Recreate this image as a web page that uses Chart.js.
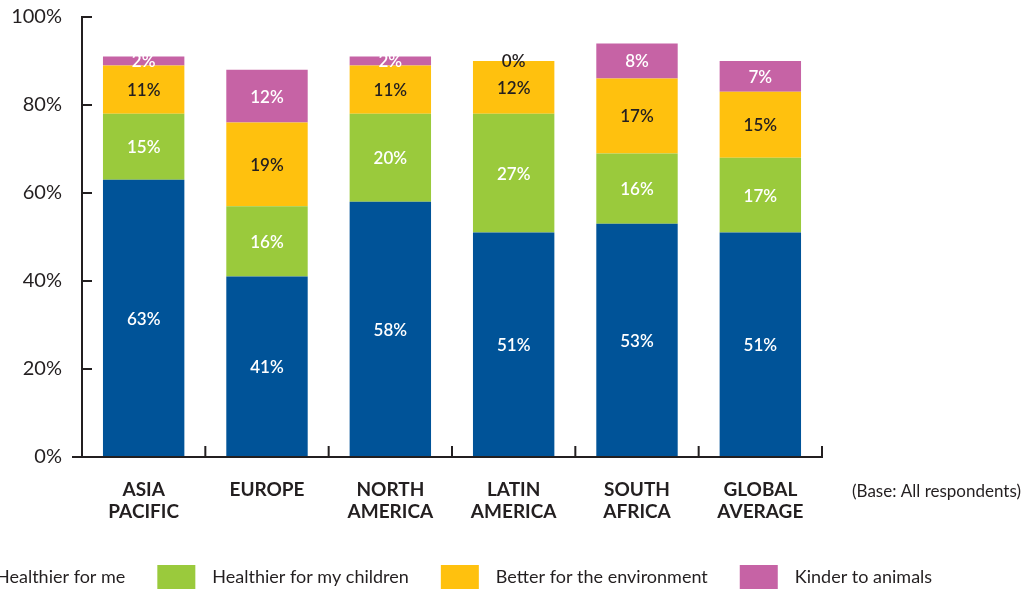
<!DOCTYPE html>
<html><head><meta charset="utf-8">
<script src="https://cdn.jsdelivr.net/npm/chart.js@4.4.1/dist/chart.umd.min.js"></script>
<style>html,body{margin:0;padding:0;background:#fff;overflow:hidden}#wrap{width:1027px;height:591px;position:relative}</style>
</head><body><div id="wrap"><canvas id="c" width="1027" height="591"></canvas></div>
<script>
const categories = [['ASIA','PACIFIC'],['EUROPE'],['NORTH','AMERICA'],['LATIN','AMERICA'],['SOUTH','AFRICA'],['GLOBAL','AVERAGE']];
const seriesNames = ['Healthier for me','Healthier for my children','Better for the environment','Kinder to animals'];
const healthierForMe = [63,41,58,51,53,51];
const healthierForChildren = [15,16,20,27,16,17];
const betterForEnvironment = [11,19,11,12,17,15];
const kinderToAnimals = [2,12,2,0,8,7];
const yTickValues = [0,20,40,60,80,100];
const footnote = '(Base: All respondents)';

const FONT = 'Lato';
const INK = '#231f20';
const colors = ['#005398','#9aca3c','#ffc10e','#c663a5'];
const labelColors = ['#ffffff','#ffffff',INK,'#ffffff'];
const seriesValues = [healthierForMe, healthierForChildren, betterForEnvironment, kinderToAnimals];

const axesPlugin = {
  id: 'axesPlugin',
  afterDraw(chart) {
    const ctx = chart.ctx, ca = chart.chartArea;
    const x = chart.scales.x, y = chart.scales.y;
    ctx.save();
    ctx.strokeStyle = INK; ctx.lineWidth = 2; ctx.lineCap = 'butt';
    const y0 = y.getPixelForValue(0), y100 = y.getPixelForValue(100);
    ctx.beginPath();
    ctx.moveTo(ca.left, y100 - 1); ctx.lineTo(ca.left, y0 + 1);
    yTickValues.forEach(v => { if (v === 0) return; const p = y.getPixelForValue(v); ctx.moveTo(ca.left - 1, p); ctx.lineTo(ca.left + 10, p); });
    ctx.moveTo(ca.left - 10, y0); ctx.lineTo(ca.right + 1, y0);
    for (let i = 1; i < categories.length; i++) {
      const p = (x.getPixelForTick(i - 1) + x.getPixelForTick(i)) / 2;
      ctx.moveTo(p, y0); ctx.lineTo(p, y0 - 11);
    }
    ctx.moveTo(ca.right, y0); ctx.lineTo(ca.right, y0 - 11);
    ctx.stroke();

    // footnote
    ctx.fillStyle = INK; ctx.font = '17px ' + FONT; ctx.textBaseline = 'middle'; ctx.textAlign = 'left';
    ctx.fillText(footnote, ca.right + 30, y0 + 35);

    // legend
    ctx.font = '18px ' + FONT;
    let lx = -59;
    const ly = 577;
    chart.data.datasets.forEach(ds => {
      ctx.fillStyle = ds.backgroundColor;
      ctx.fillRect(lx, ly - 12, 38, 24);
      ctx.fillStyle = INK; ctx.textAlign = 'left'; ctx.textBaseline = 'middle';
      ctx.fillText(ds.label, lx + 55, ly);
      lx += 55 + ctx.measureText(ds.label).width + 32;
    });
    ctx.restore();
  },
  afterDatasetsDraw(chart) {
    const ctx = chart.ctx;
    ctx.save();
    ctx.font = '600 17px ' + FONT; ctx.textAlign = 'center'; ctx.textBaseline = 'middle';
    chart.data.datasets.forEach((ds, i) => {
      const meta = chart.getDatasetMeta(i);
      meta.data.forEach((el, j) => {
        const v = ds.data[j];
        ctx.fillStyle = v === 0 ? INK : labelColors[i];
        ctx.fillText(v + '%', el.x, (el.y + el.base) / 2 + 1);
      });
    });
    ctx.restore();
  }
};

new Chart(document.getElementById('c'), {
  type: 'bar',
  data: {
    labels: categories,
    datasets: seriesNames.map((n, i) => ({
      label: n, data: seriesValues[i], backgroundColor: colors[i],
      barPercentage: 0.66, categoryPercentage: 1, borderWidth: 0
    }))
  },
  options: {
    responsive: false, animation: false, devicePixelRatio: 1,
    layout: { padding: { top: 17, right: 205, left: 0, bottom: 0 } },
    plugins: { legend: { display: false }, tooltip: { enabled: false } },
    scales: {
      x: {
        stacked: true,
        grid: { display: false, drawTicks: false }, border: { display: false },
        ticks: { color: INK, font: { family: FONT, size: 19, weight: 'bold', lineHeight: 1.15 }, padding: 22, maxRotation: 0, autoSkip: false },
        afterFit(s) { s.height = 134; s.paddingLeft = 0; s.paddingRight = 0; }
      },
      y: {
        stacked: true, min: 0, max: 100,
        grid: { display: false, drawTicks: false }, border: { display: false },
        afterBuildTicks(s) { s.ticks = yTickValues.map(v => ({ value: v })); },
        ticks: { color: INK, font: { family: FONT, size: 20 }, padding: 20, callback: v => v + '%' },
        afterFit(s) { s.width = 82; s.paddingTop = 0; s.paddingBottom = 0; }
      }
    }
  },
  plugins: [axesPlugin]
});
</script></body></html>
